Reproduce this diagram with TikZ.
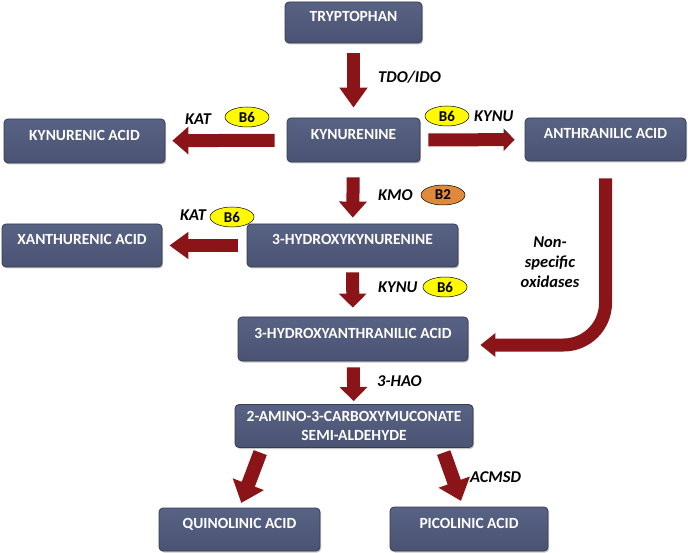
\documentclass[tikz,border=0pt]{standalone}
\usepackage{fontspec}
\setmainfont{Carlito}
\usepackage{tikz}
\usetikzlibrary{shapes.geometric, arrows.meta, shadows}
\definecolor{boxblue}{RGB}{74,83,114}
\definecolor{boxtop}{RGB}{88,98,132}
\definecolor{boxedge}{RGB}{52,59,84}
\definecolor{arrowred}{RGB}{139,20,24}
\definecolor{vitsix}{RGB}{255,250,0}
\definecolor{vittwo}{RGB}{222,138,58}
\tikzstyle{molecule} = [rectangle, rounded corners=4pt, draw=boxedge, line width=0.8pt, top color=boxtop, bottom color=boxblue, text=white, font=\fontsize{15.5}{19}\selectfont\bfseries, drop shadow={shadow xshift=1.2pt, shadow yshift=-1.5pt, opacity=0.45}]
\tikzstyle{raised} = [text height=10pt, text depth=11.5pt]
\tikzstyle{enzyme} = [font=\fontsize{16.5}{20}\selectfont\bfseries\itshape, anchor=west, inner sep=0pt]
\tikzstyle{vitamin} = [ellipse, draw=black, line width=0.5pt, fill=vitsix, minimum width=44pt, minimum height=20pt, inner sep=0pt, font=\fontsize{15}{16}\selectfont\bfseries]
\tikzstyle{pathway} = [draw=arrowred, line width=13pt, -{Triangle[width=27pt,length=16pt]}]

\begin{document}
\begin{tikzpicture}[x=1pt, y=-1pt]
\useasboundingbox (0,0) rectangle (688,553);

% Nodes
\node (tryp) [molecule, raised, minimum width=137pt, minimum height=41pt] at (353.5,22.5) {TRYPTOPHAN};
\node (kyn) [molecule, raised, minimum width=133pt, minimum height=44pt] at (353.5,140) {KYNURENINE};
\node (kyna) [molecule, raised, minimum width=161pt, minimum height=44pt] at (84.5,141) {KYNURENIC ACID};
\node (anth) [molecule, raised, minimum width=161pt, minimum height=43pt] at (605.5,139.5) {ANTHRANILIC ACID};
\node (xan) [molecule, raised, minimum width=160pt, minimum height=43pt] at (82,245.5) {XANTHURENIC ACID};
\node (hk) [molecule, raised, minimum width=211pt, minimum height=43pt] at (352.5,245.5) {3-HYDROXYKYNURENINE};
\node (hxa) [molecule, raised, minimum width=230pt, minimum height=44pt] at (353,339) {3-HYDROXYANTHRANILIC ACID};
\node (acms) [molecule, align=center, minimum width=238pt, minimum height=43pt] at (354,426) {2-AMINO-3-CARBOXYMUCONATE\\SEMI-ALDEHYDE};
\node (quin) [molecule, raised, minimum width=161pt, minimum height=43pt] at (239.5,529.5) {QUINOLINIC ACID};
\node (pico) [molecule, raised, minimum width=158pt, minimum height=44pt] at (469,529) {PICOLINIC ACID};

% Enzymes and cofactors
\node (tdo) [enzyme] at (378,77) {TDO/IDO};
\node (kat1) [enzyme] at (185,119) {KAT};
\node (bsix1) [vitamin] at (247,117) {B6};
\node (bsix2) [vitamin] at (447,116) {B6};
\node (kynu1) [enzyme] at (474,116) {KYNU};
\node (kmo) [enzyme] at (378,195) {KMO};
\node (btwo) [vitamin, fill=vittwo] at (443,195) {B2};
\node (kat2) [enzyme] at (180,215) {KAT};
\node (bsix3) [vitamin] at (232,217) {B6};
\node (kynu2) [enzyme] at (378,287) {KYNU};
\node (bsix4) [vitamin] at (445,287) {B6};
\node (hao) [enzyme] at (377,381) {3-HAO};
\node (acmsd) [enzyme] at (470,477) {ACMSD};
\node (nso) [enzyme, anchor=center, align=center] at (550,262) {Non-\\specific\\oxidases};

% Arrows
\draw [pathway, -{Triangle[width=27pt,length=20pt]}, shorten <=10pt, shorten >=10pt] (tryp) -- (kyn);
\draw [pathway, shorten <=12pt, shorten >=7pt] (kyn) -- (kyna);
\draw [pathway, -{Triangle[width=22pt,length=11pt]}, shorten <=8pt, shorten >=10pt] (kyn) -- (anth);
\draw [pathway, shorten <=15pt, shorten >=6pt] (kyn) -- (hk);
\draw [pathway, -{Triangle[width=26pt,length=19pt]}, shorten <=9pt, shorten >=7pt] (hk) -- (xan);
\draw [pathway, -{Triangle[width=27pt,length=14pt]}, shorten <=5pt, shorten >=9pt] (hk) -- (hxa);
\draw [pathway, -{Triangle[width=27pt,length=14pt]}, shorten <=6pt, shorten >=3pt] (hxa) -- (acms);
\draw [pathway, rounded corners=42pt, -{Triangle[width=23pt,length=15pt]}, shorten <=17pt, shorten >=12pt] (anth.south) |- ([yshift=-6pt]hxa.east);
\draw [pathway, line width=14pt, -{Triangle[width=32pt,length=20pt]}, shorten <=5pt, shorten >=5pt] ([xshift=-92pt]acms.south) -- (quin.north);
\draw [pathway, line width=14pt, -{Triangle[width=32pt,length=20pt]}, shorten <=5pt, shorten >=6pt] ([xshift=88pt]acms.south) -- ([xshift=-6pt]pico.north);

\end{tikzpicture}
\end{document}
